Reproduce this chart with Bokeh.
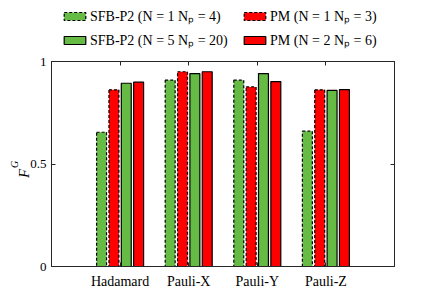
import numpy as np
from bokeh.plotting import figure
from bokeh.layouts import column
from bokeh.models import (Range1d, FixedTicker, LinearAxis, Legend, LegendItem,
                          Label, ColumnDataSource)
from bokeh.embed import file_html
from bokeh.resources import INLINE

# ---- data ----
gates = ["Hadamard", "Pauli-X", "Pauli-Y", "Pauli-Z"]
sfb_n1 = [0.655, 0.909, 0.909, 0.660]
pm_n1 = [0.862, 0.950, 0.876, 0.862]
sfb_n5 = [0.894, 0.941, 0.941, 0.859]
pm_n2 = [0.899, 0.950, 0.902, 0.863]
series_labels = ["SFB-P2 (N = 1 Nₚ = 4)", "PM (N = 1 Nₚ = 3)",
                 "SFB-P2 (N = 5 Nₚ = 20)", "PM (N = 2 Nₚ = 6)"]
y_ticks = [0, 0.5, 1]
y_tick_labels = ["0", "0.5", "1"]

GREEN = "#66bb44"
RED = "#ff0000"
AX = "#262626"
FONT = "Liberation Serif"

pos = np.arange(1, len(gates) + 1)
styles = [(GREEN, "3 2", -0.27), (RED, "3 2", -0.09),
          (GREEN, "solid", 0.09), (RED, "solid", 0.27)]
values = [sfb_n1, pm_n1, sfb_n5, pm_n2]
sources = [ColumnDataSource(dict(x=pos + off, top=vals))
           for vals, (_, _, off) in zip(values, styles)]

# ---------- main chart ----------
p = figure(width=434, height=239, output_backend="svg",
           toolbar_location=None, x_range=Range1d(0, len(gates) + 1),
           y_range=Range1d(0, 1), min_border_left=50, min_border_top=9,
           min_border_right=40, min_border_bottom=25)
p.xgrid.visible = False
p.ygrid.visible = False
p.outline_line_color = AX
p.background_fill_color = "white"
p.border_fill_color = "white"

for src, (col, dash, off) in zip(sources, styles):
    p.vbar(x="x", top="top", width=0.145, source=src, fill_color=col,
           line_color="black", line_width=1.2, line_dash=dash)

for ax in (p.xaxis[0], p.yaxis[0]):
    ax.axis_line_color = AX
    ax.major_tick_line_color = AX
    ax.major_tick_in = 4
    ax.major_tick_out = 0
    ax.minor_tick_line_color = None
    ax.major_label_text_font = FONT
    ax.major_label_text_color = "black"
p.xaxis.major_label_text_font_size = "14px"
p.xaxis.major_label_standoff = 7
p.yaxis.major_label_text_font_size = "13px"
p.yaxis.major_label_standoff = 5

p.xaxis.ticker = FixedTicker(ticks=list(pos))
p.xaxis.major_label_overrides = {int(i): g for i, g in zip(pos, gates)}
p.yaxis.ticker = FixedTicker(ticks=y_ticks)
p.yaxis.major_label_overrides = {t: l for t, l in zip(y_ticks, y_tick_labels)}

# mirrored ticks on top and right
top_ax = LinearAxis(ticker=FixedTicker(ticks=list(pos)),
                    major_label_overrides={int(i): "" for i in pos},
                    axis_line_color=AX, major_tick_line_color=AX, major_tick_in=4,
                    major_tick_out=0, minor_tick_line_color=None, major_label_standoff=0)
right_ax = LinearAxis(ticker=FixedTicker(ticks=y_ticks),
                      major_label_overrides={t: "" for t in y_ticks},
                      axis_line_color=AX, major_tick_line_color=AX, major_tick_in=4,
                      major_tick_out=0, minor_tick_line_color=None, major_label_standoff=0)
p.add_layout(top_ax, "above")
p.add_layout(right_ax, "right")

# y label F_G
p.add_layout(Label(x=12, y=93, x_units="screen", y_units="screen", text="F",
                   angle=np.pi / 2, text_font=FONT, text_font_style="italic",
                   text_font_size="15px", text_color="black",
                   text_align="center", text_baseline="middle"), "left")
p.add_layout(Label(x=14, y=102, x_units="screen", y_units="screen", text="G",
                   angle=np.pi / 2, text_font=FONT, text_font_style="italic",
                   text_font_size="10px", text_color="black",
                   text_align="center", text_baseline="middle"), "left")

# ---------- legend strip ----------
lg = figure(width=434, height=52, output_backend="svg", toolbar_location=None,
            x_range=Range1d(0, 1), y_range=Range1d(5, 6),
            x_axis_location=None, y_axis_location=None,
            min_border_left=0, min_border_right=0, min_border_top=0, min_border_bottom=0)
lg.grid.visible = False
lg.outline_line_color = None
lg.border_fill_color = "white"
lg.background_fill_color = "white"
leg_renderers = []
for src, (col, dash, _) in zip(sources, styles):
    leg_renderers.append(lg.vbar(x="x", top="top", width=0.145, source=src,
                                 fill_color=col, line_color="black",
                                 line_width=1.2, line_dash=dash))
common = dict(label_text_font=FONT, label_text_font_size="14px",
              label_text_color="black",
              glyph_width=27, glyph_height=10, label_height=16, spacing=5,
              padding=0, margin=0, border_line_color=None,
              background_fill_alpha=0, label_standoff=2, inactive_fill_alpha=0)
leg1 = Legend(items=[LegendItem(label=series_labels[0], renderers=[leg_renderers[0]]),
                     LegendItem(label=series_labels[2], renderers=[leg_renderers[2]])],
              location=(10, 3), **common)
leg2 = Legend(items=[LegendItem(label=series_labels[1], renderers=[leg_renderers[1]]),
                     LegendItem(label=series_labels[3], renderers=[leg_renderers[3]])],
              location=(190, 3), **common)
lg.add_layout(leg1, "center")
lg.add_layout(leg2, "center")

layout = column(lg, p, spacing=0)
open("out.html", "w").write(file_html(layout, INLINE))
